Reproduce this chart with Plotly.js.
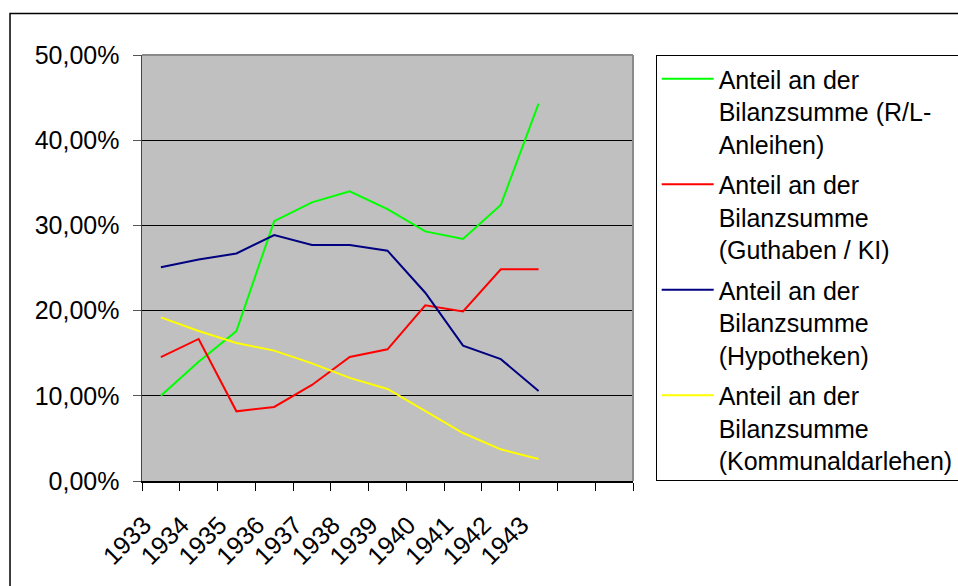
<!DOCTYPE html>
<html>
<head>
<meta charset="utf-8">
<script src="https://cdn.plot.ly/plotly-3.0.1.min.js"></script>
<style>html,body{margin:0;padding:0;background:#fff;}#chart{width:958px;height:586px;}</style>
</head>
<body>
<div id="chart"></div>
<script>
const years = ['1933','1934','1935','1936','1937','1938','1939','1940','1941','1942','1943'];
const extraCategories = ['1944','1945'];
const seriesNames = [
  'Anteil an der<br>Bilanzsumme (R/L-<br>Anleihen)',
  'Anteil an der<br>Bilanzsumme<br>(Guthaben / KI)',
  'Anteil an der<br>Bilanzsumme<br>(Hypotheken)',
  'Anteil an der<br>Bilanzsumme<br>(Kommunaldarlehen)'
];
const anleihen = [0.100, 0.140, 0.176, 0.305, 0.327, 0.340, 0.319, 0.293, 0.284, 0.324, 0.443];
const guthaben = [0.1455, 0.1667, 0.0818, 0.0869, 0.1127, 0.1455, 0.1546, 0.2062, 0.199, 0.2485, 0.2485];
const hypotheken = [0.2508, 0.260, 0.267, 0.2887, 0.277, 0.277, 0.2703, 0.221, 0.1588, 0.143, 0.1056];
const kommunal = [0.192, 0.176, 0.162, 0.153, 0.138, 0.121, 0.108, 0.082, 0.0563, 0.0372, 0.0258];
const colors = ['#00ff00', '#ff0000', '#000080', '#ffff00'];
const allSeries = [anleihen, guthaben, hypotheken, kommunal];

const font = 'Liberation Sans, Arial, sans-serif';
const traces = allSeries.map((vals, i) => ({
  type: 'scatter', mode: 'lines', x: years, y: vals, name: seriesNames[i],
  legendgroup: 'g' + i,
  line: {color: colors[i], width: 2},
  hoverinfo: 'skip'
}));

const cats = years.concat(extraCategories);
const tickText = years.concat(extraCategories.map(() => ''));

const layout = {
  width: 958, height: 586,
  margin: {l: 142, r: 325, t: 55, b: 105, autoexpand: false},
  paper_bgcolor: '#ffffff',
  plot_bgcolor: '#c0c0c0',
  separators: ',.',
  font: {family: font, size: 25, color: '#000'},
  showlegend: true,
  xaxis: {
    type: 'category', categoryorder: 'array', categoryarray: cats,
    tickmode: 'array', tickvals: cats, ticktext: tickText,
    tickson: 'boundaries', ticks: 'outside', ticklen: 8, tickcolor: '#000', tickwidth: 1,
    tickangle: -45, tickfont: {family: font, size: 25, color: '#000'},
    ticklabelstandoff: 18, ticklabelshift: -17,
    range: [-0.5, 12.5], showgrid: false, zeroline: false,
    showline: true, linecolor: '#000', linewidth: 1.5
  },
  yaxis: {
    range: [0, 0.5], dtick: 0.1, tick0: 0, tickformat: '.2%',
    ticks: 'outside', ticklen: 8, tickcolor: '#555', tickwidth: 1,
    tickfont: {family: font, size: 25, color: '#000'},
    showgrid: true, gridcolor: '#000', gridwidth: 1, zeroline: false,
    showline: true, linecolor: '#444', linewidth: 1.5,
    ticklabelstandoff: 8
  },
  legend: {
    x: 1.0462, y: 1.0, xanchor: 'left', yanchor: 'top', valign: 'top',
    bgcolor: '#ffffff', bordercolor: '#000', borderwidth: 1,
    font: {family: font, size: 25, color: '#000'},
    tracegroupgap: 5, itemwidth: 52
  },
  shapes: [
    {type: 'line', xref: 'paper', yref: 'paper', x0: 0, x1: 1, y0: 1, y1: 1, line: {color: '#8a8a8a', width: 2}},
    {type: 'line', xref: 'paper', yref: 'paper', x0: 1, x1: 1, y0: 0, y1: 1, line: {color: '#8a8a8a', width: 2}},
    {type: 'rect', xref: 'paper', yref: 'paper', x0: -0.2688, x1: 1.75, y0: -0.35, y1: 1.0974, line: {color: '#000', width: 1.5}, fillcolor: 'rgba(0,0,0,0)'}
  ]
};

Plotly.newPlot('chart', traces, layout, {displayModeBar: false, staticPlot: true});
</script>
</body>
</html>
